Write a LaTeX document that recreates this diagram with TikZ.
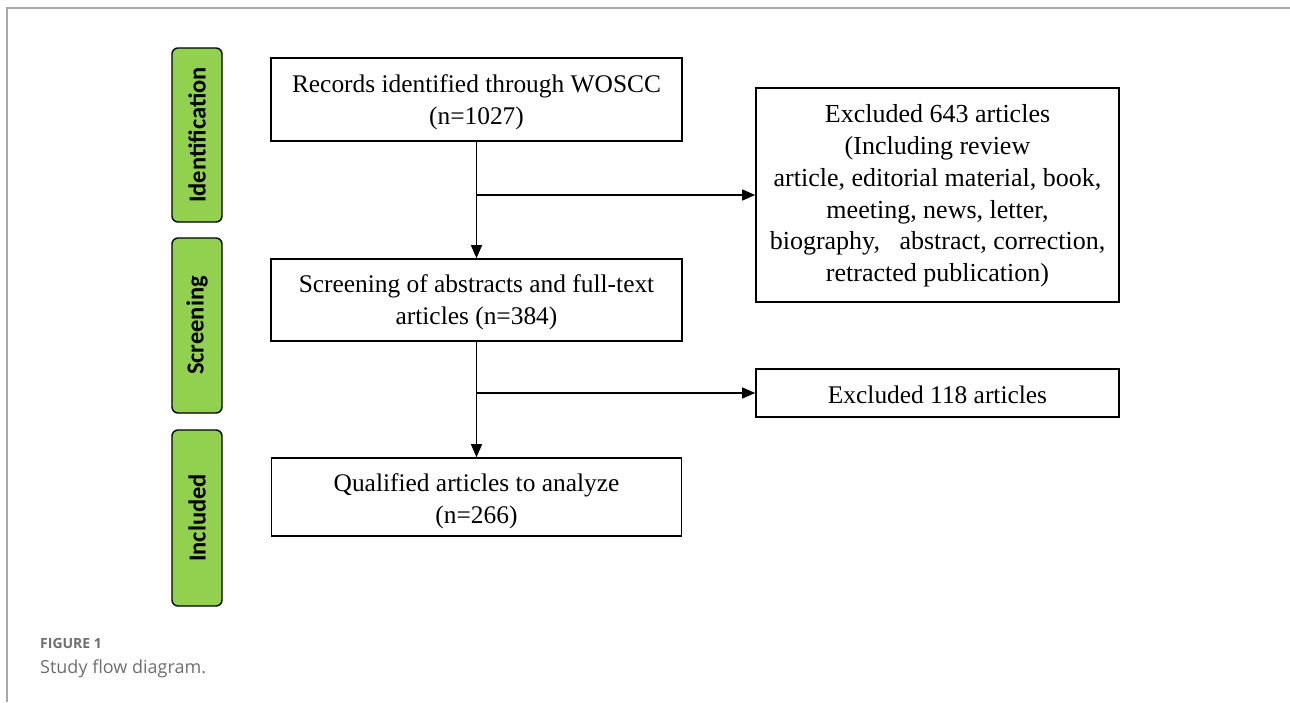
\documentclass[tikz,border=0pt]{standalone}
\usepackage{fontspec}
\setmainfont{Liberation Serif}
\newfontfamily\lblfont{Carlito}
\newfontfamily\capfont{Open Sans}
\usetikzlibrary{arrows.meta}
\definecolor{stagegreen}{HTML}{92D050}
\definecolor{framegray}{HTML}{A8A8A8}
\definecolor{capgray}{HTML}{6E6E6E}
\tikzset{
  flowbox/.style={draw=black, line width=1.6pt, fill=white, inner sep=0pt},
  flowtext/.style={align=center, inner sep=0pt, font=\fontsize{25.4}{32}\selectfont},
  stagebox/.style={draw=black, line width=1.4pt, fill=stagegreen, rounded corners=6pt, minimum width=50pt, inner sep=0pt},
  stagetext/.style={font=\lblfont\bfseries\fontsize{24.5}{26}\selectfont, rotate=90},
  flowarrow/.style={line width=1.2pt, -{Triangle[length=13pt,width=11pt]}},
}
\begin{document}
\begin{tikzpicture}[x=1pt,y=-1pt]
\useasboundingbox (0,0) rectangle (1290,702);
\draw[framegray, line width=1.5pt] (1290,8) -- (7,8) -- (7,702);

\node[stagebox, minimum height=174pt] (s1) at (197,135) {};
\node[stagetext] (t1) at (s1.center) {Identification};
\node[stagebox, minimum height=175pt] (s2) at (197,325.5) {};
\node[stagetext] (t2) at (s2.center) {Screening};
\node[stagebox, minimum height=176pt] (s3) at (197,518) {};
\node[stagetext] (t3) at (s3.center) {Included};

\node[flowbox, minimum width=411pt, minimum height=83pt] (b1) at (476.5,99.5) {};
\node[flowtext] (b1t) at ([yshift=-3pt]b1.center) {Records identified through WOSCC\\(n=1027)};
\node[flowbox, minimum width=411pt, minimum height=82pt] (b2) at (476.5,300) {};
\node[flowtext] (b2t) at ([yshift=-2pt]b2.center) {Screening of abstracts and full-text\\articles (n=384)};
\node[flowbox, minimum width=410pt, minimum height=78pt] (b3) at (476.5,497) {};
\node[flowtext] (b3t) at ([yshift=-4.5pt]b3.center) {Qualified articles to analyze\\(n=266)};
\node[flowbox, minimum width=363pt, minimum height=214pt] (r1) at (937.5,195) {};
\node[flowtext, font=\fontsize{26}{31.8}\selectfont] (r1t) at ([yshift=-1pt]r1.center) {Excluded 643 articles\\(Including review\\article, editorial material, book,\\meeting, news, letter,\\biography,\ \ \ abstract, correction,\\retracted publication)};
\node[flowbox, minimum width=363pt, minimum height=48pt] (r2) at (937.5,393) {};
\node[flowtext] (r2t) at ([yshift=-2pt]r2.center) {Excluded 118 articles};

\draw[flowarrow] (b1.south) -- (b2.north);
\draw[flowarrow] (b2.south) -- (b3.north);
\coordinate (j1) at (b1.south |- r1.west);
\coordinate (j2) at (b2.south |- r2.west);
\draw[flowarrow] (j1) -- (r1.west);
\draw[flowarrow] (j2) -- (r2.west);

\node[anchor=west, text=capgray, font=\capfont\bfseries\fontsize{14}{16}\selectfont, inner sep=0pt] (cap1) at (40,643) {FIGURE 1};
\node[anchor=west, text=capgray, font=\capfont\fontsize{18}{20}\selectfont, inner sep=0pt] (cap2) at (40,669) {Study flow diagram.};
\end{tikzpicture}
\end{document}
